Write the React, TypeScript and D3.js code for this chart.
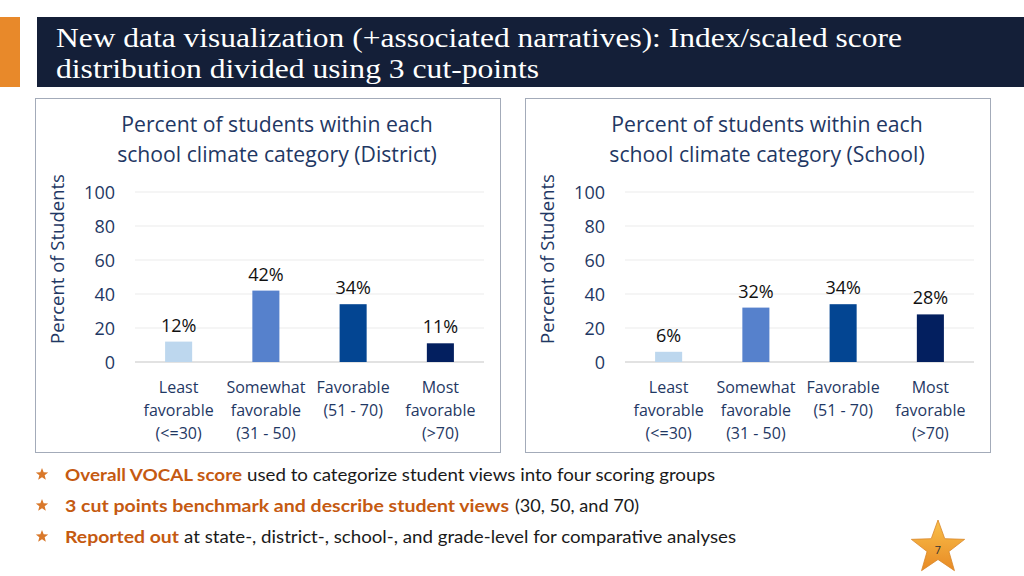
import React from "react";
import * as d3 from "d3";

const categories = ["Least", "Somewhat", "Favorable", "Most"];
const categoryLines: string[][] = [
  ["Least", "favorable", "(<=30)"],
  ["Somewhat", "favorable", "(31 - 50)"],
  ["Favorable", "(51 - 70)"],
  ["Most", "favorable", "(>70)"],
];
const districtValues = [12, 42, 34, 11];
const schoolValues = [6, 32, 34, 28];
const yTicks = [0, 20, 40, 60, 80, 100];
const barColors = ["#BDD7EE", "#5681CC", "#034592", "#031F5F"];
const titleLines = [
  "New data visualization (+associated narratives): Index/scaled score",
  "distribution divided using 3 cut-points",
];
const bullets = [
  { bold: "Overall VOCAL score", rest: "used to categorize student views into four scoring groups", bEnd: 242, rStart: 247, rEnd: 715 },
  { bold: "3 cut points benchmark and describe student views", rest: "(30, 50, and 70)", bEnd: 509, rStart: 515, rEnd: 639 },
  { bold: "Reported out", rest: "at state-, district-, school-, and grade-level for comparative analyses", bEnd: 179, rStart: 184, rEnd: 736 },
];

const NAVY = "#1F3864";
const FONT = "'Open Sans', 'Noto Sans', sans-serif";

function starPath(cx: number, cy: number, R: number, r: number) {
  const pts: [number, number][] = [];
  for (let i = 0; i < 10; i++) {
    const a = -Math.PI / 2 + (i * Math.PI) / 5;
    const rad = i % 2 === 0 ? R : r;
    pts.push([cx + rad * Math.cos(a), cy + rad * Math.sin(a)]);
  }
  return d3.line()(pts)! + "Z";
}

function Panel({ dx, values, label }: { dx: number; values: number[]; label: string }) {
  const x = d3.scaleBand().domain(categories).range([135 + dx, 484 + dx]).paddingInner(0.69).paddingOuter(0.345);
  const y = d3.scaleLinear().domain([0, 100]).range([362, 192]);
  const cx = 277 + dx;
  return (
    <g>
      <rect x={35.5 + dx} y={98.5} width={465} height={354} fill="#fff" stroke="#A3ABB9" strokeWidth={1} />
      <text x={cx} y={132} textAnchor="middle" fontFamily={FONT} fontSize={21.2} fill={NAVY}>
        Percent of students within each
      </text>
      <text x={cx} y={162} textAnchor="middle" fontFamily={FONT} fontSize={21.2} fill={NAVY}>
        {`school climate category (${label})`}
      </text>
      {yTicks.map((t) => (
        <g key={t}>
          <line x1={135 + dx} x2={484 + dx} y1={y(t)} y2={y(t)} stroke={t === 0 ? "#D9D9D9" : "#EBEBEB"} strokeWidth={t === 0 ? 1.5 : 1} />
          <text x={115 + dx} y={y(t) + 6.5} textAnchor="end" fontFamily={FONT} fontSize={18} fill={NAVY}>
            {t}
          </text>
        </g>
      ))}
      <text
        transform={`translate(${64 + dx},${259}) rotate(-90)`}
        textAnchor="middle"
        fontFamily={FONT}
        fontSize={18.5}
        fill={NAVY}
      >
        Percent of Students
      </text>
      {categories.map((c, i) => {
        const bx = x(c)!;
        const bw = x.bandwidth();
        const mid = bx + bw / 2;
        return (
          <g key={c}>
            <rect x={bx} y={y(values[i])} width={bw} height={y(0) - y(values[i])} fill={barColors[i]} />
            <text x={mid} y={y(values[i]) - 10} textAnchor="middle" fontFamily={FONT} fontSize={18} fill="#111">
              {`${values[i]}%`}
            </text>
            {categoryLines[i].map((ln, j) => (
              <text key={j} x={mid} y={393 + j * 23} textAnchor="middle" fontFamily={FONT} fontSize={16} fill={NAVY}>
                {ln}
              </text>
            ))}
          </g>
        );
      })}
    </g>
  );
}

export default function App() {
  return (
    <svg width={1024} height={576} style={{ position: "absolute", left: 0, top: 0, background: "#fff" }}>
      <defs>
        <linearGradient id="starGrad" x1="0" y1="0" x2="0" y2="1">
          <stop offset="0" stopColor="#F9C04A" />
          <stop offset="1" stopColor="#E88A25" />
        </linearGradient>
      </defs>
      <rect x={0} y={0} width={1024} height={576} fill="#fff" />
      <rect x={0} y={17} width={20} height={70} fill="#E8892A" />
      <rect x={37} y={17} width={987} height={70} fill="#141F38" />
      {titleLines.map((t, i) => (
        <text
          key={i}
          x={56}
          y={47 + i * 31}
          fontFamily="'Liberation Serif', 'DejaVu Serif', serif"
          fontSize={28}
          fill="#fff"
          textLength={i === 0 ? 846 : 483}
          lengthAdjust="spacingAndGlyphs"
        >
          {t}
        </text>
      ))}
      <Panel dx={0} values={districtValues} label="District" />
      <Panel dx={490} values={schoolValues} label="School" />
      {bullets.map((b, i) => {
        const by = 481 + i * 31;
        return (
          <g key={i}>
            <path d={starPath(42, by - 6.5, 6.5, 2.8)} fill="#D9782A" />
            <text x={65} y={by} fontFamily="'Lato', sans-serif" fontWeight="bold" fontSize={17} fill="#C55A11" textLength={b.bEnd - 65} lengthAdjust="spacingAndGlyphs">
              {b.bold}
            </text>
            <text x={b.rStart} y={by} fontFamily="'Lato', sans-serif" fontSize={17} fill="#1a1a1a" textLength={b.rEnd - b.rStart} lengthAdjust="spacingAndGlyphs">
              {b.rest}
            </text>
          </g>
        );
      })}
      <path d={starPath(938, 548, 28, 11.5)} fill="url(#starGrad)" stroke="#D8862A" strokeWidth={0.8} />
      <text x={938} y={554} textAnchor="middle" fontFamily={FONT} fontSize={11} fill="#333">
        7
      </text>
    </svg>
  );
}
